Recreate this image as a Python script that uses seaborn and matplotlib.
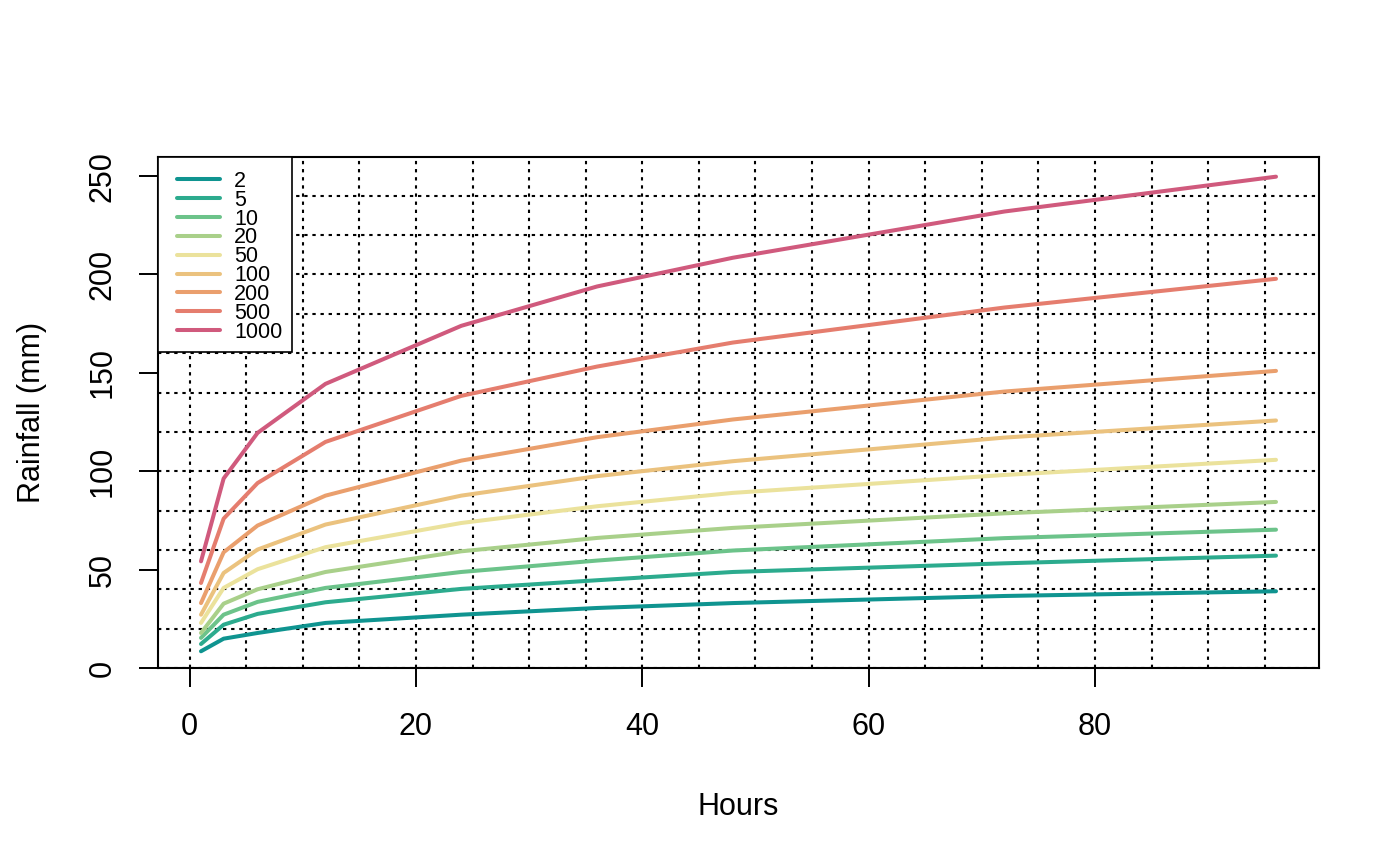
import numpy as np
import pandas as pd
import seaborn as sns
import matplotlib.pyplot as plt
from matplotlib.lines import Line2D
from matplotlib.patches import Rectangle

sns.set_style("white")
plt.rcParams['font.family'] = ['Liberation Sans', 'DejaVu Sans']
plt.rcParams['text.color'] = 'black'
plt.rcParams['axes.labelcolor'] = 'black'

# durations (hours) and rainfall depth (mm) per return period (years)
hours = [1, 3, 6, 12, 24, 36, 48, 72, 96]
periods = ['2', '5', '10', '20', '50', '100', '200', '500', '1000']
rp2 = [8.5, 14.9, 17.8, 22.9, 27.1, 30.5, 33.0, 36.6, 39.0]
rp5 = [12.2, 22.0, 27.5, 33.4, 40.2, 44.6, 48.8, 53.2, 57.1]
rp10 = [15.3, 27.1, 33.6, 40.7, 48.8, 54.6, 59.7, 66.0, 70.3]
rp20 = [17.8, 32.7, 40.0, 48.8, 59.3, 66.1, 71.2, 78.6, 84.4]
rp50 = [22.9, 40.7, 50.2, 61.4, 73.7, 82.2, 89.0, 98.1, 105.8]
rp100 = [27.1, 48.3, 60.2, 72.9, 87.6, 97.5, 105.1, 117.1, 125.8]
rp200 = [33.0, 58.8, 72.4, 87.6, 105.4, 117.3, 126.3, 140.5, 151.0]
rp500 = [43.2, 75.9, 94.0, 114.9, 138.3, 153.2, 165.4, 183.2, 197.8]
rp1000 = [54.2, 96.3, 119.5, 144.4, 173.9, 193.9, 208.5, 232.0, 249.7]
colors = ['#0f9490', '#2cab8e', '#6cc38a', '#a9d08a', '#ebe29c',
          '#ebc27e', '#ea9f6d', '#e57d6e', '#d05a7d']

series = [rp2, rp5, rp10, rp20, rp50, rp100, rp200, rp500, rp1000]
df = pd.concat([pd.DataFrame({'Hours': hours, 'Rainfall': s, 'RP': p})
                for p, s in zip(periods, series)], ignore_index=True)
pal = dict(zip(periods, colors))

fig = plt.figure(figsize=(14, 8.65), dpi=100)
ax = fig.add_axes([158/1400, 1-668/865, (1319-158)/1400, (668-157)/865])

# dotted grid first
dot = (0, (1.6, 2.3))
for gx in np.arange(0, 100, 5):
    ax.axvline(gx, color='black', lw=1.5, ls=dot, zorder=1)
for gy in np.arange(0, 260, 20):
    ax.axhline(gy, color='black', lw=1.5, ls=dot, zorder=1)

sns.lineplot(data=df, x='Hours', y='Rainfall', hue='RP', palette=pal,
             hue_order=periods, lw=2.9, legend=False, ax=ax, zorder=3)

ax.set_xlim(-2.8, 99.8)
ax.set_ylim(0, 259.7)
ax.set_xticks([0, 20, 40, 60, 80])
ax.set_yticks([0, 50, 100, 150, 200, 250])
ax.tick_params(axis='both', direction='out', length=14, width=1.4,
               labelsize=22, color='black', labelcolor='black',
               bottom=True, left=True)
ax.tick_params(axis='x', pad=18)
ax.tick_params(axis='y', pad=15)
for lab in ax.get_yticklabels():
    lab.set_rotation(90)
    lab.set_va('center')
for sp in ax.spines.values():
    sp.set_visible(True)
    sp.set_color('black')
    sp.set_linewidth(1.5)

ax.set_xlabel('Hours', fontsize=22)
ax.set_ylabel('Rainfall (mm)', fontsize=22)
ax.xaxis.label.set_va('baseline')
ax.xaxis.set_label_coords(0.5, (668-815)/511)
ax.yaxis.label.set_va('baseline')
ax.yaxis.set_label_coords((40-158)/1161, 0.5)

# legend box like R's legend(): white box in the top-left corner
ax.add_patch(Rectangle((0, (668-352)/511), (292-158)/1161, (352-157)/511,
                       transform=ax.transAxes, facecolor='white',
                       edgecolor='black', lw=1.2, zorder=4, clip_on=False))
handles = [Line2D([], [], color=c, lw=2.9) for c in colors]
leg = ax.legend(handles, periods, loc='upper left',
                bbox_to_anchor=((177-158-10.75)/1161, 0.994), borderaxespad=0,
                fontsize=15.5, handlelength=2.0, handletextpad=0.65,
                labelspacing=-0.1, borderpad=0.5, frameon=False,
                labelcolor='black')
leg.set_zorder(5)

plt.savefig('out.png', dpi=100)
